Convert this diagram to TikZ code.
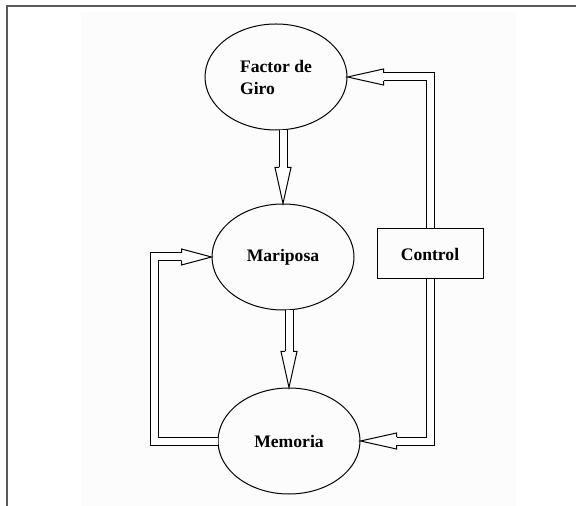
\documentclass[tikz,border=0pt]{standalone}
\usepackage{fontspec}
\setmainfont{Liberation Serif}
\usetikzlibrary{positioning,calc,shapes.geometric}
\tikzset{>=stealth}
\tikzset{
  bloque/.style={draw,ellipse,line width=.5pt,minimum width=71pt,minimum height=53pt,inner sep=0pt,font=\fontsize{8.8}{11}\selectfont\bfseries},
  caja/.style={draw,rectangle,line width=.5pt,minimum width=53pt,minimum height=25pt,inner sep=0pt,font=\fontsize{8.8}{11}\selectfont\bfseries},
  tubo/.style={double,double distance=3.5pt,line width=.5pt}
}
% hollow head: #1 base, #2 tip
\newcommand{\punta}[2]{\draw[line width=.5pt,fill=white] ($(#1)!2pt!90:(#2)$) -- ($(#1)!4pt!90:(#2)$) -- (#2) -- ($(#1)!4pt!-90:(#2)$) -- ($(#1)!2pt!-90:(#2)$);}

\begin{document}
\begin{tikzpicture}[x=.5pt,y=-.5pt]
\useasboundingbox (0,0) rectangle (576,506);
\fill[black!1] (81,12) rectangle (516,506);
\draw[line width=1pt,black!65] (576,6) -- (7,6) -- (7,506);
\node[bloque,align=left] (giro) at (276,77) {Factor de\\Giro};
\node[bloque] (mariposa) at (283,257) {Mariposa};
\node[bloque] (memoria) at (289,441) {Memoria};
\node[caja] (control) at (430,254) {Control};
\coordinate (b1) at ($(mariposa.north)+(0,-36)$);
\coordinate (b2) at ($(memoria.north)+(0,-36)$);
\coordinate (b3) at ($(giro.east)+(36,0)$);
\coordinate (b4) at ($(memoria.east)+(36,0)$);
\coordinate (b5) at ($(mariposa.west)+(-30,0)$);
\coordinate (esq) at ($(memoria.west)+(-63,0)$);
\draw[tubo] (giro.south -| mariposa.north) -- (b1);
\punta{b1}{mariposa.north}
\draw[tubo] (mariposa.south -| memoria.north) -- (b2);
\punta{b2}{memoria.north}
\draw[tubo] (control.north) |- (b3);
\punta{b3}{giro.east}
\draw[tubo] (control.south) |- (b4);
\punta{b4}{memoria.east}
\draw[tubo] (memoria.west) -- (esq) |- (b5);
\punta{b5}{mariposa.west}
\end{tikzpicture}
\end{document}
